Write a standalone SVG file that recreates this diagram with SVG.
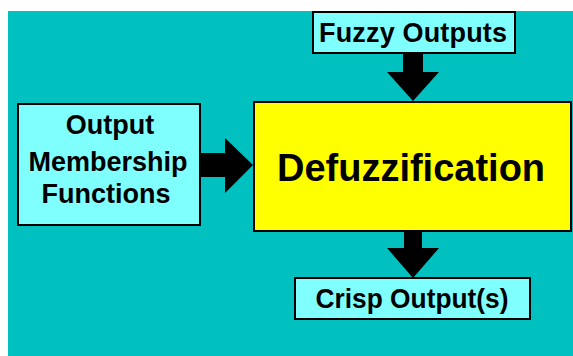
<svg xmlns="http://www.w3.org/2000/svg" width="573" height="356" viewBox="0 0 573 356">
  <style>
    .box { fill: #80FFFF; stroke: #000; stroke-width: 2; }
    .main { fill: #FFFF00; stroke: #000; stroke-width: 2; }
    .lbl { font-family: "Liberation Sans", Arial, sans-serif; font-weight: bold; font-size: 27px; fill: #000; text-anchor: middle; }
    .big { font-size: 38px; }
    .arrow { fill: #000; stroke: none; }
  </style>
  <rect x="0" y="0" width="573" height="356" fill="#FFFFFF"/>
  <rect x="8" y="11" width="565" height="345" fill="#00C0C0"/>

  <g id="connectors">
    <!-- Fuzzy Outputs down into Defuzzification -->
    <polygon class="arrow" points="403,53 423,53 423,72 439,72 413,101 387,72 403,72"/>
    <!-- Membership functions right into Defuzzification -->
    <polygon class="arrow" points="200,153 225,153 225,138 253,165 225,193 225,177 200,177"/>
    <!-- Defuzzification down to crisp output -->
    <polygon class="arrow" points="404,231 422,231 422,248 439,248 413,278 387,248 404,248"/>
  </g>

  <g id="fuzzy-outputs">
    <rect class="box" x="313" y="12" width="202" height="41"/>
    <text class="lbl" x="413" y="42" textLength="188" lengthAdjust="spacing">Fuzzy Outputs</text>
  </g>

  <g id="membership-functions">
    <rect class="box" x="18" y="104" width="182" height="121"/>
    <text class="lbl" x="110" y="134">Output</text>
    <text class="lbl" x="108" y="171">Membership</text>
    <text class="lbl" x="106" y="203">Functions</text>
  </g>

  <g id="defuzzification">
    <rect class="main" x="254" y="102" width="317" height="129"/>
    <text class="lbl big" x="411" y="181">Defuzzification</text>
  </g>

  <g id="crisp-outputs">
    <rect class="box" x="295" y="278" width="235" height="41"/>
    <text class="lbl" x="412" y="308" textLength="193" lengthAdjust="spacingAndGlyphs">Crisp Output(s)</text>
  </g>
</svg>
